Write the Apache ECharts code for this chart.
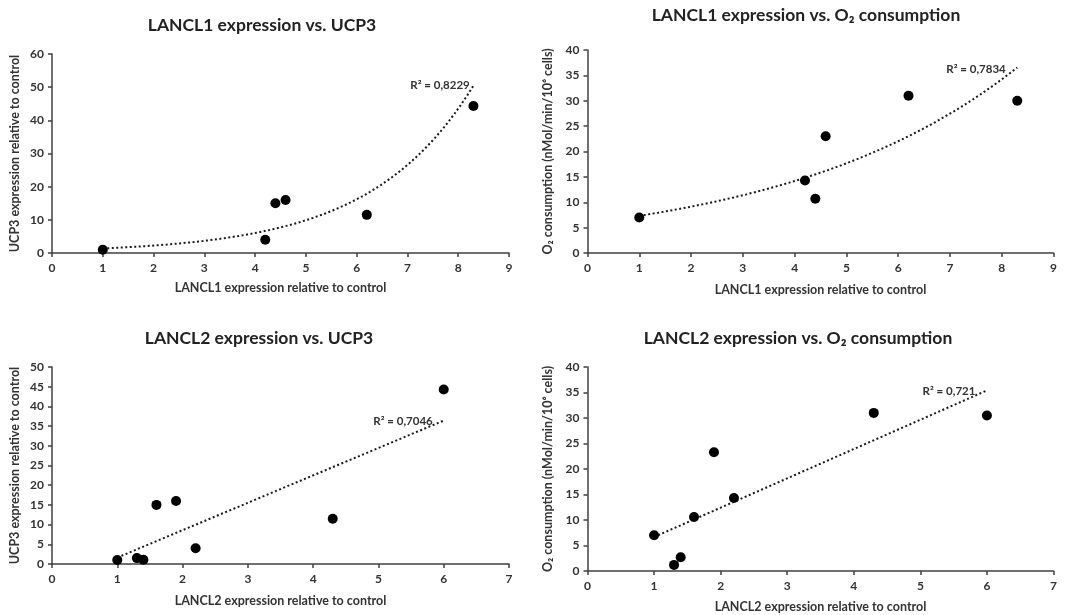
<!DOCTYPE html>
<html>
<head>
<meta charset="utf-8">
<script src="https://cdn.jsdelivr.net/npm/echarts@6/dist/echarts.min.js"></script>
<style>
  html, body { margin: 0; padding: 0; background: #fff; }
  #chart { width: 1070px; height: 615px; }
</style>
</head>
<body>
<div id="chart"></div>
<script>
// 数据：从原图读取
var lancl1Expr = [1, 4.2, 4.4, 4.6, 6.2, 8.3];
var ucp3VsLancl1 = [1, 4, 15, 16, 11.5, 44.3];
var o2VsLancl1 = [7, 14.3, 10.7, 23, 31, 30];

var lancl2Expr = [1, 1.3, 1.4, 1.6, 1.9, 2.2, 4.3, 6];
var ucp3VsLancl2 = [1, 1.5, 1.1, 15, 16, 4, 11.5, 44.3];
var o2VsLancl2 = [7, 1.2, 2.7, 10.6, 23.3, 14.3, 31, 30.5];

var r2Labels = ['R² = 0,8229', 'R² = 0,7834', 'R² = 0,7046', 'R² = 0,721'];

var FONT = 'Lato';
var TXT = '#333333';

// 最小二乘拟合 y = a + b*x
function fitLinear(xs, ys) {
  var n = xs.length, mx = 0, my = 0, sxx = 0, sxy = 0;
  for (var i = 0; i < n; i++) { mx += xs[i]; my += ys[i]; }
  mx /= n; my /= n;
  for (var j = 0; j < n; j++) {
    sxx += (xs[j] - mx) * (xs[j] - mx);
    sxy += (xs[j] - mx) * (ys[j] - my);
  }
  var b = sxy / sxx;
  return { a: my - b * mx, b: b };
}

// 趋势线（Excel风格：指数 / 线性）
function trendLine(xs, ys, kind) {
  var lo = Math.min.apply(null, xs), hi = Math.max.apply(null, xs);
  var f;
  if (kind === 'exp') {
    var fit = fitLinear(xs, ys.map(function (v) { return Math.log(v); }));
    f = function (x) { return Math.exp(fit.a + fit.b * x); };
  } else {
    var lf = fitLinear(xs, ys);
    f = function (x) { return lf.a + lf.b * x; };
  }
  var pts = [], steps = 60;
  for (var k = 0; k <= steps; k++) {
    var x = lo + (hi - lo) * k / steps;
    pts.push([x, f(x)]);
  }
  return pts;
}

function pairs(xs, ys) {
  return xs.map(function (x, i) { return [x, ys[i]]; });
}

var panels = [
  { xs: lancl1Expr, ys: ucp3VsLancl1, kind: 'exp' },
  { xs: lancl1Expr, ys: o2VsLancl1, kind: 'exp' },
  { xs: lancl2Expr, ys: ucp3VsLancl2, kind: 'lin' },
  { xs: lancl2Expr, ys: o2VsLancl2, kind: 'lin' }
];

var grids = [
  { left: 52, top: 54, width: 457, height: 199 },
  { left: 587.5, top: 50, width: 466, height: 203 },
  { left: 52, top: 367, width: 457, height: 197 },
  { left: 587.5, top: 367, width: 466, height: 204 }
];

var xMax = [9, 9, 7, 7];
var yMax = [60, 40, 50, 40];
var yStep = [10, 5, 5, 5];
var xNames = ['LANCL1 expression relative to control', 'LANCL1 expression relative to control',
              'LANCL2 expression relative to control', 'LANCL2 expression relative to control'];
var yNames = ['UCP3 expression relative to control', 'O₂ consumption (nMol/min/10⁶ cells)',
              'UCP3 expression relative to control', 'O₂ consumption (nMol/min/10⁶ cells)'];
var xGap = [28, 30, 30, 29];
var yGap = [31, 33, 31, 33];

var axisLine = { lineStyle: { color: '#404040', width: 1.5 } };
var axisTick = { length: 4, lineStyle: { color: '#404040', width: 1.5 } };
var axisLabel = { color: TXT, fontFamily: FONT, fontWeight: 'bold', fontSize: 12 };
var nameStyle = { color: TXT, fontFamily: FONT, fontWeight: 'bold', fontSize: 12.5 };

var xAxes = [], yAxes = [], series = [];
panels.forEach(function (p, i) {
  xAxes.push({
    type: 'value', gridIndex: i, min: 0, max: xMax[i], interval: 1,
    splitLine: { show: false }, axisLine: axisLine, axisTick: axisTick,
    axisLabel: Object.assign({ margin: 9 }, axisLabel),
    name: xNames[i], nameLocation: 'middle', nameGap: xGap[i], nameTextStyle: nameStyle
  });
  yAxes.push({
    type: 'value', gridIndex: i, min: 0, max: yMax[i], interval: yStep[i],
    splitLine: { show: false }, axisLine: Object.assign({ show: true }, axisLine),
    axisTick: Object.assign({ show: true }, axisTick),
    axisLabel: Object.assign({ margin: 8 }, axisLabel),
    name: yNames[i], nameLocation: 'middle', nameGap: yGap[i], nameTextStyle: nameStyle
  });
  series.push({
    type: 'line', xAxisIndex: i, yAxisIndex: i, data: trendLine(p.xs, p.ys, p.kind),
    showSymbol: false, silent: true, z: 1,
    lineStyle: { color: '#1a1a1a', width: 2, type: [2, 2.5] }
  });
  series.push({
    type: 'scatter', xAxisIndex: i, yAxisIndex: i, data: pairs(p.xs, p.ys),
    symbolSize: 10, z: 3, itemStyle: { color: '#000', opacity: 1 }
  });
});

var titleStyle = { color: '#222222', fontFamily: FONT, fontWeight: 'bold', fontSize: 17.5 };
var titles = [
  { text: 'LANCL1 expression vs. UCP3', left: 262, top: 16 },
  { text: 'LANCL1 expression vs. O₂ consumption', left: 806, top: 6 },
  { text: 'LANCL2 expression vs. UCP3', left: 259, top: 329 },
  { text: 'LANCL2 expression vs. O₂ consumption', left: 798, top: 329 }
].map(function (t) {
  return Object.assign({ textAlign: 'center', padding: 0, textStyle: titleStyle }, t);
});

// R²标签位置
var r2Pos = [[440, 85], [976, 69], [403, 421], [949, 391]];
var graphics = r2Labels.map(function (s, i) {
  return {
    type: 'text', x: r2Pos[i][0], y: r2Pos[i][1],
    style: { text: s, fill: TXT, font: 'bold 11.5px ' + FONT, align: 'center', verticalAlign: 'middle' }
  };
});

var myChart = echarts.init(document.getElementById('chart'), null, { renderer: 'canvas' });
myChart.setOption({
  animation: false,
  backgroundColor: '#fff',
  title: titles,
  grid: grids,
  xAxis: xAxes,
  yAxis: yAxes,
  series: series,
  graphic: graphics
});
</script>
</body>
</html>
